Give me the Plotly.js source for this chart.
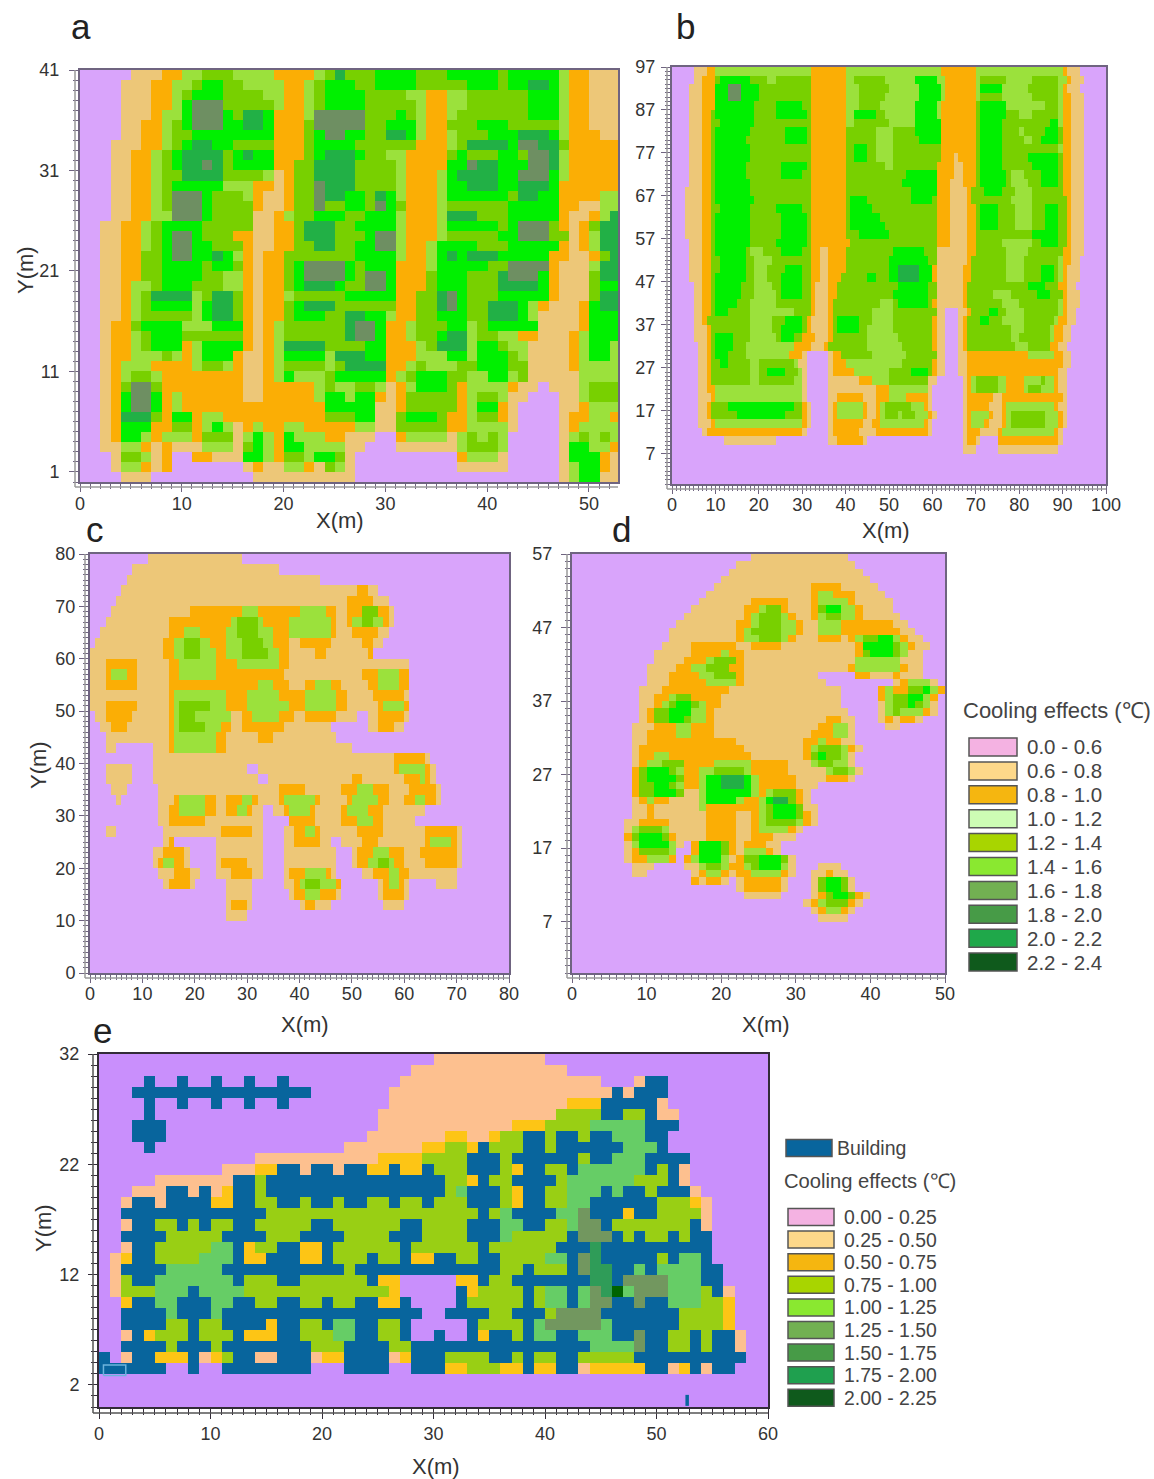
<!DOCTYPE html>
<html>
<head>
<meta charset="utf-8">
<script src="https://cdn.plot.ly/plotly-3.0.1.min.js"></script>
<style>html,body{margin:0;padding:0;background:#fff}</style>
</head>
<body>
<div id="chart" style="width:1154px;height:1479px"></div>
<script>
// cell classes per panel, run length per row, top row first
var rowsA = [
"p5 t3 o2 l2 g3 l4 o4 l1 g1 d1 g1 g2 b4 g3 b5 g1 b5 l1 o2 t3",
"p4 t3 o2 l2 g1 b2 g2 l4 o2 l1 g1 b3 g2 b4 g5 b3 g1 b2 d2 b1 l1 o2 t3",
"p4 t3 o2 l1 g1 b3 g4 l2 o2 l1 g1 b4 g4 l2 o2 l2 g6 b3 l1 o2 t3",
"p4 t3 o2 l1 b1 s3 g5 l1 o2 l1 g1 b4 g5 l1 o2 l2 g6 b3 l1 o2 t3",
"p4 t3 o1 l2 b1 s3 b1 g1 d2 b1 o3 l1 s5 g3 b1 g1 l1 o2 l1 g7 b3 l1 o2 t3",
"p4 t2 o2 l1 g1 b1 s3 b2 d2 b1 o3 g1 s5 g2 b3 l1 o2 g3 b3 g5 l1 o2 t3",
"p4 t2 o2 l1 g2 b8 o3 g1 b1 s2 b2 g2 d2 b1 l1 o2 l1 g3 b3 d3 b1 l1 o3 t2",
"p3 t3 o2 l1 g1 b1 d2 b2 g4 o3 g1 b4 g6 o3 l1 g1 d4 b1 s2 d2 g1 o5",
"p3 t2 o2 l1 g1 b1 d4 g1 b1 d1 b2 o3 g1 b1 d3 b1 g2 l2 o4 g1 b1 g3 b2 g1 s2 d1 l1 o5",
"p3 t2 o2 l1 g1 b1 d2 s1 d1 g1 b4 o2 g2 d4 g4 l1 o4 b2 s1 d2 b3 s2 d1 l1 o5",
"p3 t2 o2 l1 g2 d4 g4 l1 t1 o1 g2 d4 g4 l1 o3 l1 b1 d4 b2 s3 b1 l1 o5",
"p3 t2 o2 l1 g1 b5 l3 o2 t1 o1 g2 s1 d3 g4 l1 o3 l1 b2 d3 b2 d3 b1 o6",
"p3 t2 o2 l1 g1 s3 b1 g3 l1 o1 t2 o1 g2 s1 d2 b2 g1 d1 b1 l1 o3 l1 b6 g1 d2 b2 o4 l2",
"p3 t2 o2 l1 g1 s3 b1 g4 o1 t2 o1 g2 s1 g2 b2 g1 s1 b1 g1 o3 l1 g6 b5 o2 t2 l2",
"p3 t2 o2 l2 s3 b1 g4 t2 o1 l1 g2 b3 g2 b3 l1 o3 l1 d3 g3 b5 o1 t2 o1 l1 d1",
"p2 t2 o2 l1 g1 b4 g5 t2 o2 g1 d3 g2 b4 l1 o3 l1 b5 g1 b1 s3 g1 o1 t1 o1 g1 d2",
"p2 t2 o2 l1 g1 b1 s2 b1 g3 o2 t2 o2 g1 d3 g3 b1 s2 l1 o3 l1 g5 b2 s3 g2 t1 o1 l1 d2",
"p2 t2 o2 l1 g1 b1 s2 b2 g3 o1 t2 o2 g2 d2 g2 b2 s2 l1 o2 l1 b4 g3 b5 o1 t1 o1 l1 d2",
"p2 t2 o2 g2 b1 s2 b2 d1 b1 l1 o1 t1 o2 g7 b4 l1 o2 l1 b1 d1 b1 d3 b5 o2 t2 o1 g1 d1",
"p2 t2 o2 g2 b4 g1 b2 g1 o1 t1 o2 g1 b1 s4 b1 g1 b3 o3 l1 b5 g2 s4 o1 t3 l1 d2",
"p2 t2 o2 g2 b4 g2 l2 o1 t1 o2 g1 b1 s4 b1 g1 s2 b1 o3 g1 b3 g3 d1 s3 b1 o1 t3 g1 d2",
"p2 t2 o1 l2 g1 b3 g3 l2 o1 t1 o2 g1 b1 d3 b1 g2 s2 b1 o3 g1 b3 g3 d4 b1 o1 t3 g1 b2",
"p2 t2 o1 l1 g1 d4 l1 g1 d2 g1 o1 t1 o2 l1 g5 b5 o2 g2 d1 s1 b1 g3 b5 o1 t3 g1 d2",
"p2 t2 o1 l1 g1 b4 l1 b1 d2 g1 o1 t1 o2 g1 b1 d3 g6 o2 g2 d1 s1 b1 g2 d3 b1 l1 o1 t3 o1 b1 d2",
"p2 t2 o1 l1 g5 l1 b1 d2 g1 o1 t1 o2 g1 b3 g2 d2 b2 l1 o2 g2 b3 g2 d3 b1 l1 t4 o1 b3",
"p2 t1 o2 g1 b4 l3 b3 o1 t1 o1 l1 g6 d1 s2 b1 o2 l1 g3 b2 l1 g1 b5 t4 o1 b3",
"p2 t1 o2 l1 g1 b3 g6 o1 t1 o1 l1 g6 d1 s2 b1 o2 l1 g2 b1 d2 l1 g2 l2 o2 t3 o1 l1 b3",
"p2 t1 o2 l1 g1 b3 o1 l1 b4 o1 t1 o1 l1 d4 g4 b2 o3 l1 g1 d3 l1 b2 g1 l2 t4 o1 l1 b2 l1",
"p2 t1 o2 l3 g1 l1 o1 l1 b3 o1 t2 o1 l1 b4 l1 d3 b2 o3 l3 b2 l1 b3 g1 l1 t4 o1 l1 b2 l1",
"p2 t1 o1 l3 o4 l1 g2 l1 o1 t2 o1 l1 g4 l1 g1 d4 o2 l1 g1 l3 g2 b3 g2 t4 o1 l4",
"p2 t1 o1 l1 g2 l1 o8 t2 o1 l1 b1 l3 g1 b5 o1 l1 g1 b3 g2 l2 b2 l1 g1 t5 l4",
"p2 t1 o1 g1 s2 g1 o8 t2 o5 l1 g1 l2 g2 l1 t1 o1 l1 b3 g1 o1 l4 o1 t2 p1 t3 l1 g3",
"p2 t1 o1 b1 s2 b1 o1 l1 o6 t2 o5 l1 b2 l1 b2 o1 t1 o1 g5 o1 l1 g2 l1 t2 p3 t2 l1 g3",
"p2 t1 o1 b1 s2 b1 o1 l1 o14 b3 b2 t2 o1 g5 o1 l1 b2 o1 t1 p4 t2 o1 l3",
"p2 t1 o1 d3 g1 o1 b2 o1 l2 o10 g3 b2 t2 g1 b3 g1 o2 l1 g2 o1 t1 p4 t1 o2 l2 o1",
"p2 t1 o1 b3 o2 g2 o1 l1 b1 l1 t1 o1 l1 o2 l2 o5 l2 t2 g5 o2 l4 t1 p4 t1 o1 l4",
"p2 t1 o1 b2 l1 o1 l3 o1 g3 t1 l1 b1 l1 o1 b1 l3 o2 t3 p2 o1 l4 t1 l1 g1 l1 g1 l1 p5 t1 l1 g1 l1 g1 l1",
"p2 t2 l2 o1 t1 o1 t3 l3 t1 g1 b1 l1 o1 b2 l4 t2 p3 t6 l1 g3 l1 p5 t1 b2 l2 o1",
"p3 t1 g2 l1 t1 o1 p2 o2 t3 b2 l1 o1 g2 l1 b2 g1 t1 p10 o1 l3 t1 p5 t1 b3 o1 t1",
"p3 t1 l2 o1 t1 o1 p7 t1 o1 t2 l2 o1 t1 g1 l1 t1 p10 t5 p5 t1 l1 b2 o1 t1",
"p4 t3 p10 t10 p20 t1 l1 b2 t2"
];
var rowsB = [
"p5 t3 o2 l22 o8 l22 o8 l20 o1 t3 p6",
"p5 t2 o3 g1 b7 g4 l2 g8 o8 l2 g7 l7 b5 l2 o7 l1 g6 l6 g6 l2 o1 t3 p5",
"p4 t3 o3 b3 s3 b4 g12 o8 l3 g7 l7 b5 l1 o7 l1 b5 l6 g7 l1 o1 t3 p6",
"p4 t3 o3 b3 s3 b4 g12 o8 l3 g6 l8 b5 l1 o7 l1 g5 l7 g6 l1 o2 t3 p5",
"p4 t3 o3 b9 g5 b6 g2 o8 l3 g5 l8 b5 l1 o8 g1 b6 l9 g3 l1 o2 t3 p5",
"p4 t3 o2 g1 b9 g5 b7 g1 o8 l2 b5 g2 l7 b5 l1 o8 g1 b6 g3 l3 g6 l1 o2 t3 p5",
"p4 t3 o2 g2 b8 g13 o8 l2 g8 l6 b6 o8 g1 b5 g11 b2 l1 o2 t3 p5",
"p4 t3 o2 g1 b8 g8 b5 g1 o8 g7 l4 g5 b6 o8 g1 b5 g4 l1 g5 b3 g1 o2 t3 p5",
"p4 t3 o2 g1 b7 g9 b5 g1 o8 g7 l4 g6 b5 o8 g1 b5 g5 l2 g2 b4 g1 o2 t3 p5",
"p4 t3 o2 g1 b8 g14 o8 g2 b3 g2 l4 g11 o8 g1 b5 g13 l1 o2 t3 p5",
"p4 t3 o2 g1 b8 g14 o8 g2 b3 g2 l4 g11 o3 t1 o4 g1 b5 g6 b7 g1 o2 t3 p5",
"p4 t3 o2 g1 b7 g8 b6 g1 o8 g9 l2 g10 o4 t2 o3 g1 b5 g7 b6 g1 o2 t3 p5",
"p4 t3 o2 g1 b7 g8 b5 g2 o8 g14 b7 o4 t2 o3 g1 b6 g1 l3 g4 b4 g1 o2 t3 p5",
"p4 t3 o2 g1 b8 g14 o8 g13 b8 o3 t3 o3 g1 b6 g1 l4 g3 b4 g1 o2 t3 p5",
"p3 t4 o2 g1 b8 g14 o8 g15 b6 o3 t4 o1 g3 b4 g3 l4 g7 o2 t3 p5",
"p3 t4 o2 g1 b9 g13 o8 g1 b4 g10 b5 g1 o3 t4 o1 g9 l5 g8 o1 t3 p5",
"p3 t4 o2 g2 b7 g6 b6 g2 o8 g1 b5 g15 o3 t4 o2 g1 b4 g4 l4 g3 b3 g2 o1 t3 p5",
"p3 t4 o2 g1 b8 g7 b6 g1 o8 g1 b7 g13 o3 t4 o2 g1 b4 g4 l4 g3 b3 g2 o1 t3 p5",
"p3 t4 o2 g1 b8 g7 b6 g1 o8 g1 b8 g12 o3 t4 o2 g1 b4 g4 l4 g3 b3 g2 o1 t3 p5",
"p3 t4 o2 g1 b8 g7 b6 g1 o8 g3 b7 g11 o3 t4 o2 g13 b6 g2 o1 t3 p5",
"p4 t3 o2 g1 b8 g6 b7 g1 o9 g20 o3 t4 o2 g6 l7 g2 b4 g2 o1 t3 p5",
"p4 t3 o2 g1 b7 g1 l3 g4 b5 g2 o2 t2 o4 g11 b7 g3 t7 o2 g7 l5 g8 o2 t3 p5",
"p4 t3 o2 g2 b6 g2 l4 g9 o2 t2 o4 g10 b9 g2 t7 o1 g8 l4 g8 l1 o2 t2 p6",
"p4 t3 o2 g2 b6 g2 l3 g4 b4 g2 o2 t2 o4 g10 b2 d5 b3 o1 t6 o2 g8 l4 g4 b3 g1 l1 o1 t3 p6",
"p4 t3 o2 g1 b7 g2 l3 g3 b5 g2 o2 t2 o3 g6 b2 g3 b2 d5 b3 o1 t6 o2 g8 l4 g4 b3 g1 l1 o1 t3 p6",
"p5 t2 o2 g1 b6 g3 l4 g2 b5 g2 o1 t3 o2 g14 b7 g2 t6 o1 g14 b4 g3 o2 t2 p7",
"p5 t2 o2 g1 b6 g3 l5 g1 b5 g2 o1 t3 o2 g13 b8 g2 t6 o1 g6 l4 g6 b3 g3 o1 t3 p6",
"p5 t2 o2 g1 b5 g3 l6 g8 o1 t3 o1 g11 l3 g1 b7 g1 o1 t6 o1 g8 l4 g9 l1 o1 t3 p6",
"p5 t2 o2 g1 b3 g5 l10 g4 o1 t3 o1 g9 l5 g10 t2 p3 t2 o1 g4 b2 g2 l4 g8 l1 o1 t2 p7",
"p5 t2 o1 g10 l5 g3 b4 g1 o1 t4 o1 g1 b5 g3 l5 g9 o1 t2 p3 t1 o1 g3 b2 g3 l5 g7 l1 o2 t2 p7",
"p5 t3 o1 g9 l5 g2 b5 g1 o1 t4 o1 g1 b5 g2 l6 g9 o1 t2 p3 t1 o1 g10 l3 g6 l1 o2 t2 p8",
"p5 t3 o1 g1 b4 g4 l6 g1 b3 g2 o3 t3 o1 g8 l7 g8 o1 t2 p3 t1 o1 g10 l2 g7 l1 o2 t2 p8",
"p6 t2 o1 g1 b4 g3 l11 o4 t3 o1 g9 l8 g7 o1 t2 p3 t1 o1 g11 l3 g5 o2 t2 p9",
"p6 t2 o1 g1 b3 g4 l10 o3 t1 p5 t1 o2 g7 l8 g7 t2 p3 t2 o14 l6 o2 t2 p8",
"p6 t2 o1 g2 b2 g5 l2 g8 l1 t2 p5 t1 o3 l13 g7 o1 t2 p3 t2 o22 t2 p8",
"p6 t2 o1 g9 l2 g2 b4 g3 l1 t1 p5 t1 o5 l8 g5 b4 g1 o1 t2 p3 t2 o21 t2 p9",
"p6 t2 o1 g9 l2 g8 l2 t1 p5 t2 t5 o3 l4 g9 t2 p6 t1 o1 l1 g5 l2 o4 l4 g1 l2 o1 t2 p9",
"p6 t2 o2 l20 t1 p5 t8 t3 o3 l9 t1 p7 t1 o1 l1 g5 l2 o4 l1 g3 l3 o1 t2 p9",
"p6 t3 o1 l20 t1 p5 t2 o6 t3 o3 l4 o5 t1 p7 t1 o6 t2 o14 t1 p9",
"p6 t2 o1 g4 b15 g2 o1 t1 p4 t1 o1 l6 o1 t2 o1 l1 g6 l3 o1 t1 p7 t1 o5 t3 o1 l11 o1 t2 p9",
"p6 t2 o1 g6 b11 g4 o1 t1 p4 t1 o1 l6 o1 t2 o1 l1 g3 l1 g3 l3 o1 t1 p6 t1 o1 l4 o1 t2 o1 l1 g8 l3 o1 t1 p9",
"p6 t3 o1 l20 o1 t1 p4 t1 o7 t2 o2 l10 o1 t1 p7 t1 o1 l3 o1 t3 o1 l1 g8 l3 o1 t1 p9",
"p7 t1 o22 t1 p5 t1 o6 t4 o12 t1 p7 t1 o3 t4 o1 l12 o1 t1 p10",
"p12 t12 p12 t2 o6 t1 p22 t1 o2 t1 p4 o14 t1 p10",
"p67 t3 p5 t14 p11",
"p100","p100","p100","p100"
];
var rowsC = [
"p11 t18 p51",
"p8 t28 p44",
"p7 t37 p36",
"p6 t45 o2 t2 p25",
"p5 t44 o5 t3 p23",
"p4 t15 o10 l3 o8 l5 o2 t2 o3 g3 o2 t1 p22",
"p3 t12 o12 l1 g4 l1 o5 l8 o1 t2 o1 l2 g2 l2 o1 t1 p22",
"p2 t13 o3 l3 o5 l2 g4 l3 o3 l8 o1 t3 o5 t2 p23",
"p1 t13 o2 l2 g3 l2 o3 l3 g4 l2 o3 t2 o6 t6 o2 t2 p24",
"t14 o2 l2 g3 l3 o2 l3 g5 l2 o2 t5 o2 t8 o1 p26",
"t3 o6 t6 o2 l7 o4 l8 o2 t23 p19",
"t3 o1 l3 o2 t6 o2 l7 o13 t15 o3 l4 o2 p19",
"t3 o6 t6 o17 l3 o3 t3 o2 l3 o2 t5 o2 l4 o2 p19",
"t15 o1 l10 o4 l6 o5 l6 o2 t5 o6 t1 p19",
"t3 o6 t6 o1 l1 g6 l3 o4 l8 o3 l6 o2 t6 o1 l4 o1 p19",
"p1 t2 o5 t7 o1 l1 g3 l7 t2 o2 l5 o3 t2 o6 t4 p2 t2 o5 t1 p19",
"p2 t2 o3 t8 o1 l1 g5 l3 o2 t2 o8 t9 p7 t2 o3 t2 p20",
"p3 t12 o1 l8 o2 t6 o3 t12 p33",
"p3 t2 p7 t3 o1 l8 o2 t24 p30",
"p12 t46 o6 t1 p15",
"p3 t5 p4 t18 p2 t26 o1 l5 o1 t1 p14",
"p3 t5 p4 t20 p2 t16 o2 t8 o3 l1 o1 t1 p14",
"p4 t3 p6 t23 o5 t7 o3 l3 o3 t4 o5 t1 p13",
"p5 t1 p7 t3 o1 l5 o2 t2 o3 l2 o1 t4 o1 l6 o1 t5 o1 l5 o2 t3 o2 l2 o2 t1 p13",
"p13 t2 o2 l5 o2 t2 o2 l2 o1 t2 p2 t2 o1 l4 o1 t5 o1 l4 o3 t8 p16",
"p13 t2 o7 t11 p5 o5 t5 o3 l3 o2 t6 p18",
"p3 t2 p9 t11 o6 t2 p4 t2 o2 l2 o1 t7 o5 t8 o6 t1 p9",
"p14 t1 o1 p8 t9 p4 t2 o5 t2 p2 t4 o3 t9 o1 l4 o1 t1 p9",
"p12 t2 o4 t1 p5 t9 p4 t10 p3 t1 o3 l3 o3 t3 o7 t1 p9",
"p12 t1 o1 l2 o2 t1 p5 t1 o5 t3 p4 t10 p3 t1 o2 l2 g2 l1 o2 t4 o6 t1 p9",
"p13 t3 o3 t2 p3 t3 o4 t2 p4 t1 o3 l4 o1 t1 p5 t2 o3 l2 o2 t3 t6 p10",
"p14 t1 o4 t1 p6 t5 p6 t2 o1 l1 g3 l3 o1 p7 t1 o1 l2 o1 t1 p5 t4 p10",
"p26 t5 p7 t1 o2 l3 o3 t1 p7 t1 o4 t1 p19",
"p26 t1 o3 t1 p9 t1 o2 t3 p10 t4 p20",
"p26 t4 p50",
"p80","p80","p80","p80","p80"
];
var rowsD = [
"p24 t13 p13",
"p22 t16 p12",
"p21 t18 p11",
"p20 t20 p10",
"p19 t13 o4 t5 p9",
"p18 t14 o1 l2 o3 t4 p8",
"p17 t7 o5 t3 o1 l4 o1 t5 p7",
"p16 t7 o2 l1 g2 o1 t3 o1 g1 b2 l2 o1 t4 p7",
"p15 t8 o1 l1 g3 l1 o1 t2 o1 l1 g2 l2 o1 t5 p6",
"p14 t8 o2 l1 g3 l2 o1 t2 l3 o7 t2 p5",
"p13 t9 o1 l1 g4 l2 o1 t2 l3 o8 t2 p4",
"p13 t9 o1 l2 g3 l1 o1 t3 o3 t1 o1 l1 g2 b2 l1 o1 t2 p3",
"p12 t4 o6 t2 o4 t10 o1 b4 g1 l1 o1 t2 p2",
"p11 t5 o4 l1 o2 t15 o1 g1 b3 g1 l1 t2 p3",
"p11 t4 o3 l1 g3 o1 t15 l6 t3 p3",
"p10 t4 o2 l2 g3 o2 t14 o1 l6 o1 t2 p3",
"p10 t3 o4 l2 g3 o1 t10 p5 o2 t3 o1 t3 p3",
"p10 t3 o5 l4 o1 t11 p9 t1 o1 l3 t1 p1",
"p9 t3 o9 t15 p5 o1 l1 o2 g2 b1 l1 o1",
"p9 t2 o2 l1 g2 o4 t15 t1 p5 o1 l1 g2 b2 l1 o1 p1",
"p9 t2 o1 l1 g1 b2 g1 l1 o2 t16 p5 t1 l1 g2 b1 g1 l1 t1 p1",
"p9 t1 o1 g2 b3 l2 o1 t18 p4 t1 l1 g1 l3 o1 t1 p1",
"p9 t1 o1 g2 b2 g1 l2 o1 t15 o2 t2 p3 t1 o1 t1 o2 t1 p3",
"p8 t3 o3 l2 o3 t14 o2 l2 t1 p4 t2 p6",
"p8 t2 o4 l2 o3 t13 o3 l2 t1 p12",
"p8 t2 o12 t9 o2 l1 o2 t2 p12",
"p8 t1 o14 t8 o1 l1 g3 l1 o1 t1 p11",
"p8 t1 o2 l2 o11 t7 o1 g1 b1 g2 l1 t1 p12",
"p8 t1 o1 l2 g3 o4 l5 o5 t3 l1 g2 l2 t1 p12",
"p8 o1 g1 b3 g1 l1 o2 l2 g4 l1 o5 t5 l1 g2 l1 t1 p11",
"p8 o1 g1 b4 g1 o2 l1 b2 d3 b1 l1 o5 t4 o3 t1 p12",
"p8 o1 g2 b2 g1 l1 o2 l1 b2 d3 b1 l1 o5 t3 p17",
"p8 o1 g2 b3 g1 t2 l1 b6 l1 o1 l1 g3 o1 t1 p18",
"p8 t1 o1 l1 o2 t4 l1 b4 l1 o2 l1 b1 d2 g1 o1 t1 p18",
"p8 t2 o1 t6 l1 o7 l1 g1 b3 g1 t2 p17",
"p8 t2 o1 t7 o4 t2 o1 l1 g1 b3 g1 o1 t1 p17",
"p7 t2 o4 t5 o4 t2 o1 l1 g4 l1 o1 t1 p17",
"p7 t1 l1 g3 l1 t5 o4 t2 o1 l4 o1 t1 p19",
"p7 o1 g1 b3 g1 o1 t4 o4 t2 o3 t3 p20",
"p7 t1 l1 b4 l1 t1 p1 o1 b3 g1 o1 t1 o3 t2 p22",
"p7 t1 o1 g4 l1 p2 o1 b3 g1 o1 t1 l3 o1 t1 p22",
"p7 t1 o2 l3 o1 p1 o1 l1 b3 l1 t1 o1 g2 b3 g1 t1 p20",
"p8 t3 p4 t2 l1 g2 l1 o1 o1 l1 g1 b3 l1 t1 p3 t3 p14",
"p8 t2 p6 t1 o1 l2 o1 t1 o2 l4 o1 t1 p2 t2 o1 t2 p13",
"p16 o1 t1 o2 t1 p1 t1 o5 t1 p3 t1 g1 b2 g1 t1 p12",
"p22 t1 o5 t1 p3 t1 g1 b2 g1 t1 p12",
"p23 t5 p4 t1 o1 g1 b2 g1 o1 t1 p11",
"p31 t1 o1 l1 g3 o1 t1 p11",
"p32 t1 o1 l2 o1 t1 p12",
"p33 t4 p13",
"p50","p50","p50","p50","p50","p50","p50"
];
var rowsE = [
"p30 q10 p20",
"p28 q14 p18",
"p4 u1 p2 u1 p2 u1 p2 u1 p2 u1 p10 q18 p3 q1 u1 u1 p10",
"p3 u16 p7 q20 u1 q1 u3 p9",
"p4 u1 p2 u1 p2 u1 p2 u1 p2 u1 p9 q16 y3 u5 q1 p9",
"p4 u1 p20 q16 v4 u2 v2 u1 q2 p8",
"p3 u3 p19 q12 y3 v4 w5 u3 p8",
"p3 u3 p18 q7 y2 q2 y1 v2 u2 v1 u2 v1 u2 w3 u2 p9",
"p4 u1 p17 q7 y2 v2 y1 u1 v3 u2 v1 u6 w3 u1 p9",
"p14 q11 y4 v4 u3 v1 u6 v1 u2 w3 u4 p7",
"p11 q3 y2 u2 q1 u2 q1 u2 y2 u1 y2 u1 v3 u3 v1 y1 u2 v2 u1 w6 u1 v1 u1 q1 p7",
"p5 q7 u2 v1 u16 v2 y1 u1 v2 u4 v1 w6 v3 u1 q1 p7",
"p3 q3 u2 q1 u1 q1 y1 u2 v1 u16 v1 w1 u3 v1 y1 u2 v2 w3 u1 w1 u2 v1 u3 q1 p6",
"p2 q1 u2 q1 u4 y2 u2 v2 u2 v1 u2 v1 u2 v2 u1 v2 u1 v3 u3 v1 y1 u2 v2 w2 u6 v3 y1 q1 p5",
"p2 u13 v19 u1 v1 w1 u4 w2 s1 u3 y1 u2 v4 q1 p5",
"p2 q1 u2 v2 u1 v1 u1 v2 u2 v5 u2 v6 u2 v4 u3 w2 u2 v2 w1 s2 u1 v7 u1 q1 p5",
"p2 u4 v5 u4 v3 u4 v4 u3 v4 u3 w1 v5 u1 s3 u1 v1 u1 v2 u1 v1 u2 p5",
"p2 q1 u2 v5 w2 u1 y1 v2 u2 y2 u1 v6 u1 v6 u1 v6 u3 k1 u10 p5",
"p1 q1 y1 u2 v4 w3 u1 y2 u3 y2 u1 v3 u1 v2 u1 y2 u2 v2 u2 v4 w2 u1 s1 k1 u5 v1 u1 w2 u1 p5",
"p1 q1 u4 w5 u11 v1 u13 v2 u1 v3 u1 s1 k2 u2 w1 u1 w4 u2 p4",
"p1 q1 v1 u2 w7 u1 v3 u2 v6 u1 y2 p5 y2 u1 v2 u7 k2 u1 s4 w3 u2 p4",
"p1 q1 v3 w3 u1 w4 v13 y1 p5 u1 y1 v4 u1 v1 w2 u1 w1 s1 k1 n1 w1 s3 w3 v1 u1 q1 p3",
"p2 y1 u2 w2 u3 w2 u2 v2 u2 v2 u1 v2 u2 y2 u1 p4 u1 v5 u1 v1 w2 u1 w1 s2 u2 s1 u2 w3 v2 y1 p3",
"p2 u4 w1 u3 w1 u18 p2 u4 v2 u3 v1 s4 u7 v4 y1 p3",
"p2 u4 v2 u1 v2 u4 y1 u2 v2 u1 w2 u2 v2 u1 p5 u1 v4 u1 w1 s5 w1 u6 v4 y1 p3",
"p2 q1 u1 y1 v3 u1 v3 u1 y3 u2 v3 w2 u2 v2 u1 p2 u1 p2 u1 y1 u2 v1 u1 w2 u2 w3 u2 s1 u2 v2 u1 v1 u2 q1 p2",
"p2 u4 v1 u3 v1 u8 v3 u4 v2 u16 w4 s1 u2 v2 u1 v1 u2 q1 p2",
"u1 p1 q1 u2 y3 u1 q1 y1 v1 u2 q2 u3 q1 y2 u4 q1 y1 u3 v4 u2 v1 u1 v2 u2 v5 u10 p2",
"u6 p2 u1 p2 u8 p3 u4 p2 u3 y2 v3 y2 u1 y2 u2 q1 y5 u2 q1 y1 u1 q1 u2 p3",
"p60",
"p60",
"p60"
];

// small building bits in panel e that are thinner than a cell
var stubX = [52.75, 52.75];
var stubY = [0.1, 1.1];
var outlineX = [0.4, 2.4, 2.4, 0.4, 0.4];
var outlineY = [2.85, 2.85, 3.8, 3.8, 2.85];

var classesMain = ['p','t','o','l','g','b','d','s'];
var colorsMain = ['#d9a4fb','#edc778','#fbae05','#9be13c','#78d000','#00f000','#22b046','#6e8f62'];
var classesE = ['p','q','y','v','w','s','k','n','u'];
var colorsE = ['#c98ffc','#fdc08f','#fdc515','#99cf14','#66cd66','#72975f','#2f9c58','#006400','#08659d'];

var legend1Labels = ['0.0 - 0.6','0.6 - 0.8','0.8 - 1.0','1.0 - 1.2','1.2 - 1.4','1.4 - 1.6','1.6 - 1.8','1.8 - 2.0','2.0 - 2.2','2.2 - 2.4'];
var legend1Colors = ['#f4b2e2','#fdd88a','#f5b610','#cdfdb4','#a8d500','#8ae830','#72b052','#479b47','#1fa84a','#0f5a1c'];
var legend2Labels = ['0.00 - 0.25','0.25 - 0.50','0.50 - 0.75','0.75 - 1.00','1.00 - 1.25','1.25 - 1.50','1.50 - 1.75','1.75 - 2.00','2.00 - 2.25'];
var legend2Colors = ['#f4b2e2','#fdd88a','#f5b610','#a8d500','#8ae830','#72b052','#479b47','#1fa04f','#0f5a1c'];

var W = 1154, H = 1479;
var textFont = 'Liberation Sans, Arial, sans-serif';

function parseRows(rows, classes, cols) {
	return rows.map(function(row) {
		var out = [];
		row.split(' ').forEach(function(run) {
			var k = classes.indexOf(run.charAt(0));
			var n = parseInt(run.slice(1));
			for (var i = 0; i < n; i++) out.push(k);
		});
		while (out.length < cols) out.push(0);
		return out.slice(0, cols);
	});
}

function steps(colors) {
	var s = [];
	colors.forEach(function(c, i) {
		s.push([i / colors.length, c]);
		s.push([(i + 1) / colors.length, c]);
	});
	return s;
}

var panels = [
	{rows:rowsA, cols:53, cellH:1, top:41, box:[80,618,70,482], xr:[0,52.85], yr:[0,41], xt:[0,10,20,30,40,50], yt:[1,11,21,31,41], cls:classesMain, col:colorsMain, line:'#6f6480', outer:'#9a9a9a', gap:5, xTick:8, xOff:-4, yOff:6, letter:'a', lx:81, ly:27, xl:[340,520], yl:[25,270]},
	{rows:rowsB, cols:100, cellH:2, top:97, box:[672,1106,67,484], xr:[0,100], yr:[0,97], xt:[0,10,20,30,40,50,60,70,80,90,100], yt:[7,17,27,37,47,57,67,77,87,97], cls:classesMain, col:colorsMain, line:'#6f6480', outer:'#9a9a9a', gap:5, xTick:8, xOff:-5, yOff:2, letter:'b', lx:685, ly:27, xl:[886,530]},
	{rows:rowsC, cols:80, cellH:2, top:80, box:[90,509,554,973], xr:[0,80], yr:[0,80], xt:[0,10,20,30,40,50,60,70,80], yt:[0,10,20,30,40,50,60,70,80], cls:classesMain, col:colorsMain, line:'#6f6480', outer:'#9a9a9a', gap:5, xTick:8, xOff:-5, yOff:0, letter:'c', lx:95, ly:529, xl:[305,1024], yl:[38,765]},
	{rows:rowsD, cols:50, cellH:1, top:57, box:[572,945,554,973], xr:[0,50], yr:[0,57], xt:[0,10,20,30,40,50], yt:[7,17,27,37,47,57], cls:classesMain, col:colorsMain, line:'#6f6480', outer:'#9a9a9a', gap:5, xTick:8, xOff:-5, yOff:5, letter:'d', lx:621, ly:529, xl:[766,1024]},
	{rows:rowsE, cols:60, cellH:1, top:32, box:[99,768,1054,1407], xr:[0,60], yr:[0,32], xt:[0,10,20,30,40,50,60], yt:[2,12,22,32], cls:classesE, col:colorsE, line:'#332c38', outer:'#555', gap:6, xTick:10, xOff:-1, yOff:5, letter:'e', lx:102, ly:1030, xl:[436,1466], yl:[43,1228]}
];

var data = [], layout = {
	width: W, height: H,
	margin: {l:0, r:0, t:0, b:0},
	paper_bgcolor: '#fff', plot_bgcolor: '#fff',
	showlegend: false,
	font: {family: textFont, color: '#333'},
	shapes: [], annotations: []
};

function addAxisLabel(t, pos, angle) {
	layout.annotations.push({
		xref:'paper', yref:'paper', x:pos[0] / W, y:1 - pos[1] / H, text:t, showarrow:false,
		xanchor:'center', yanchor:'middle', textangle:angle,
		font:{size:22, color:'#333', family:textFont}
	});
}

panels.forEach(function(p, n) {
	var suffix = n === 0 ? '' : String(n + 1);
	var xs = [], ys = [];
	for (var i = 0; i < p.cols; i++) xs.push(i + 0.5);
	for (var j = 0; j < p.rows.length; j++) ys.push(p.top - (j + 0.5) * p.cellH);
	data.push({
		type: 'heatmap',
		x: xs, y: ys,
		z: parseRows(p.rows, p.cls, p.cols),
		xaxis: 'x' + suffix, yaxis: 'y' + suffix,
		zmin: -0.5, zmax: p.col.length - 0.5,
		colorscale: steps(p.col),
		showscale: false,
		hoverinfo: 'skip'
	});
	var common = {
		showgrid: false, zeroline: false, showline: true, mirror: true,
		linecolor: p.line, linewidth: 2, tickcolor: p.line,
		ticks: 'outside',
		tickfont: {size: 18, color: '#333', family: textFont}
	};
	layout['xaxis' + suffix] = Object.assign({}, common, {
		domain: [p.box[0] / W, p.box[1] / W],
		anchor: 'y' + suffix,
		range: p.xr, tickmode: 'array', tickvals: p.xt,
		ticklen: p.xTick, ticklabelstandoff: p.xOff,
		minor: {ticks: 'outside', ticklen: p.gap, dtick: 1, tickcolor: p.line, tickwidth: 1}
	});
	layout['yaxis' + suffix] = Object.assign({}, common, {
		domain: [1 - p.box[3] / H, 1 - p.box[2] / H],
		anchor: 'x' + suffix,
		range: p.yr, tickmode: 'array', tickvals: p.yt,
		ticklen: 9, ticklabelstandoff: p.yOff,
		minor: {ticks: 'outside', ticklen: p.gap, dtick: 1, tick0: 0, tickcolor: p.line, tickwidth: 1}
	});
	// second frame line left of and under the plot
	[[p.box[0] - p.gap, p.box[0] - p.gap, p.box[2], p.box[3] + p.gap],
	 [p.box[0] - p.gap, p.box[1], p.box[3] + p.gap, p.box[3] + p.gap]].forEach(function(s) {
		layout.shapes.push({type:'line', xref:'paper', yref:'paper',
			x0:s[0] / W, x1:s[1] / W, y0:1 - s[2] / H, y1:1 - s[3] / H,
			line:{color:p.outer, width:1.5}});
	});
	addAxisLabel('X(m)', p.xl, 0);
	if (p.yl) addAxisLabel('Y(m)', p.yl, -90);
	layout.annotations.push({
		xref:'paper', yref:'paper', x:p.lx / W, y:1 - p.ly / H,
		text:p.letter, showarrow:false, xanchor:'center', yanchor:'middle',
		font:{size:35, color:'#222', family:textFont}
	});
});

data.push({type:'scatter', mode:'lines', x:stubX, y:stubY, xaxis:'x5', yaxis:'y5', line:{color:colorsE[8], width:3.5}, hoverinfo:'skip'});
data.push({type:'scatter', mode:'lines', x:outlineX, y:outlineY, xaxis:'x5', yaxis:'y5', line:{color:'#6cb4dc', width:1.5}, hoverinfo:'skip'});

function addText(t, x, y, size, color) {
	layout.annotations.push({
		xref:'paper', yref:'paper', x:(x - 2) / W, y:1 - y / H, text:t, showarrow:false,
		xanchor:'left', yanchor:'middle', font:{size:size, color:color || '#444', family:textFont}
	});
}
function addSwatch(x0, x1, yc, h, fill) {
	layout.shapes.push({
		type:'rect', xref:'paper', yref:'paper',
		x0:x0 / W, x1:x1 / W, y0:1 - (yc - h / 2) / H, y1:1 - (yc + h / 2) / H,
		fillcolor:fill, line:{color:'#555', width:1.5}
	});
}

addText('Cooling effects (℃)', 963, 710, 22);
legend1Labels.forEach(function(t, i) {
	var y = 747 + i * 23.9;
	addSwatch(969, 1017, y, 18, legend1Colors[i]);
	addText(t, 1027, y, 20.5);
});

addSwatch(786, 832, 1148, 17, colorsE[8]);
addText('Building', 837, 1148, 19.5);
addText('Cooling effects (℃)', 784, 1181, 20.2);
legend2Labels.forEach(function(t, i) {
	var y = 1217 + i * 22.6;
	addSwatch(788, 834, y, 17, legend2Colors[i]);
	addText(t, 844, y, 19.4);
});

Plotly.newPlot('chart', data, layout, {displayModeBar: false, staticPlot: true});
</script>
</body>
</html>
